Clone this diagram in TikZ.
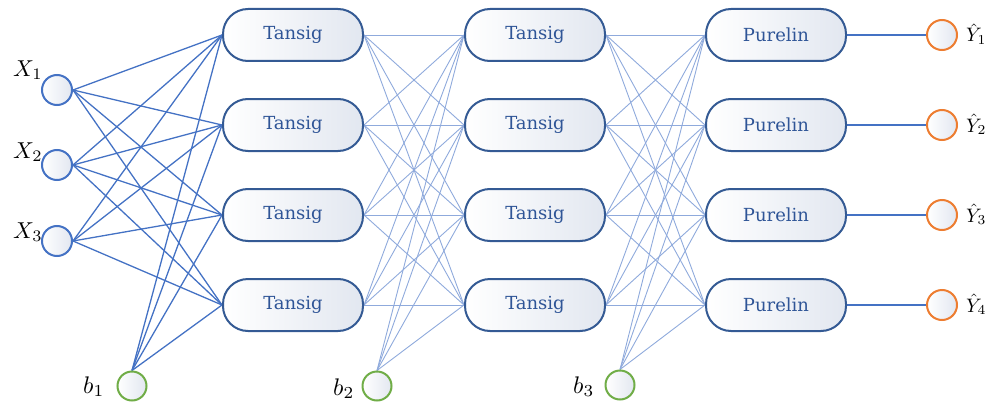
\documentclass[tikz,border=0pt]{standalone}
\usepackage{fontspec}
\usepackage{graphicx}
\newfontfamily\unitfont{DejaVu Serif}
\pgfdeclarelayer{bg}
\pgfsetlayers{bg,main}
\definecolor{wireA}{RGB}{68,114,196}
\definecolor{wireB}{RGB}{143,170,220}
\definecolor{boxline}{RGB}{52,90,148}
\definecolor{boxtext}{RGB}{47,85,151}
\definecolor{boxfill}{RGB}{226,231,240}
\definecolor{inring}{RGB}{68,114,196}
\definecolor{biasring}{RGB}{112,173,71}
\definecolor{outring}{RGB}{237,125,49}
\tikzset{
  unit/.style={draw=boxline, line width=2pt, rounded corners=25pt,
    minimum width=140pt, minimum height=52pt, inner sep=0pt,
    left color=white, right color=boxfill, text=boxtext,
    font=\unitfont\fontsize{18}{22}\selectfont},
  ring/.style={circle, line width=2pt, minimum size=30pt, inner sep=0pt,
    left color=white, right color=boxfill},
  inwire/.style={wireA, line width=1.3pt},
  midwire/.style={wireB, line width=0.9pt},
  outwire/.style={wireA, line width=1.5pt},
  lab/.style={anchor=base west, inner sep=0pt},
}
\begin{document}
\begin{tikzpicture}[x=1pt,y=-1pt]
\useasboundingbox (0,0) rectangle (990,404);

% input units
\node[ring, draw=inring] (x1) at (57,90) {};
\node[ring, draw=inring] (x2) at (57,165) {};
\node[ring, draw=inring] (x3) at (57,241) {};
\node[lab] (lx1) at (13,76) {\scalebox{2.3}{$X_1$}};
\node[lab] (lx2) at (13,158) {\scalebox{2.3}{$X_2$}};
\node[lab] (lx3) at (13,238) {\scalebox{2.3}{$X_3$}};

% bias units
\node[ring, draw=biasring, minimum size=29pt] (b1) at (132,386) {};
\node[ring, draw=biasring, minimum size=29pt] (b2) at (377,386) {};
\node[ring, draw=biasring, minimum size=29pt] (b3) at (620,385) {};
\node[lab] (lb1) at (83,393) {\scalebox{2.4}{$b_1$}};
\node[lab] (lb2) at (333,395) {\scalebox{2.4}{$b_2$}};
\node[lab] (lb3) at (573,393) {\scalebox{2.4}{$b_3$}};

% three layers of transfer-function units, then the outputs
\foreach \j/\y in {1/35,2/125,3/215,4/305}{
  \node[unit] (h\j) at (293,\y) {Tansig};
  \node[unit] (g\j) at (535,\y) {Tansig};
  \node[unit] (p\j) at (776,\y) {Purelin};
  \node[ring, draw=outring] (y\j) at (942,\y) {};
}
\node[lab] (ly1) at (966,42) {\scalebox{1.95}{$\hat{Y}_1$}};
\node[lab] (ly2) at (966,132) {\scalebox{1.95}{$\hat{Y}_2$}};
\node[lab] (ly3) at (966,222) {\scalebox{1.95}{$\hat{Y}_3$}};
\node[lab] (ly4) at (966,312) {\scalebox{1.95}{$\hat{Y}_4$}};

\begin{pgfonlayer}{bg}
  \foreach \j in {1,...,4}{
    \foreach \i in {1,2,3} \draw[inwire] (x\i.east) -- (h\j.west);
    \draw[inwire] (b1.north) -- (h\j.west);
    \foreach \i in {1,...,4}{
      \draw[midwire] (h\i.east) -- (g\j.west);
      \draw[midwire] (g\i.east) -- (p\j.west);
    }
    \draw[midwire] (b2.north) -- (g\j.west);
    \draw[midwire] (b3.north) -- (p\j.west);
    \draw[outwire] (p\j.east) -- (y\j.west);
  }
\end{pgfonlayer}
\end{tikzpicture}
\end{document}
